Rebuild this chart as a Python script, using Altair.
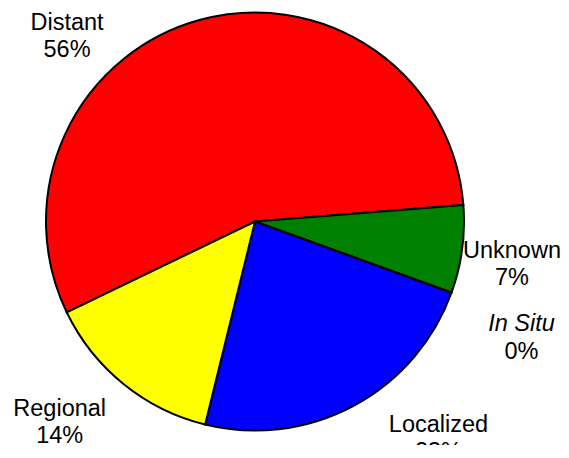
import math
import altair as alt
import pandas as pd

# Data (clockwise order, starting with Distant)
categories = ["Distant", "Unknown", "In Situ", "Localized", "Regional"]
percents = [55.9, 6.8, 0.0, 23.3, 14.0]
colors = ["#FF0000", "#008000", "#FFFFFF", "#0000FF", "#FFFF00"]

# Label layout (angle clockwise from 12 o'clock in degrees, distance from centre in px)
label_deg = [314.53, 99.54, 113.6, 139.77, 224.19]
label_r = [263.7, 260.6, 290.8, 284.1, 280.2]

df = pd.DataFrame({
    "cat": categories,
    "pct": percents,
    "idx": list(range(len(categories))),
    "ldeg": label_deg,
    "lr": label_r,
})

CX, CY, R = 247, 213.5, 209
start = math.radians(244.2)

base = alt.Chart(df)

pie = base.mark_arc(radius=R, stroke="black", strokeWidth=2).encode(
    x=alt.value(CX),
    y=alt.value(CY),
    theta=alt.Theta("pct:Q", stack=True,
                    scale=alt.Scale(range=[start, start + 2 * math.pi])),
    order=alt.Order("idx:Q"),
    color=alt.Color("cat:N", scale=alt.Scale(domain=categories, range=colors), legend=None),
)

txt = base.transform_calculate(
    lrad="datum.ldeg * PI / 180",
    ptxt="format(datum.pct, '.0f') + '%'",
)

font = "Liberation Sans"
fs = 23.5

def label_layer(text_field, dy, style="normal", filt=None):
    c = txt
    if filt is not None:
        c = c.transform_filter(filt)
    return c.mark_text(font=font, fontSize=fs, fontStyle=style, dy=dy,
                       align="center", baseline="middle", color="black").encode(
        x=alt.value(CX),
        y=alt.value(CY),
        theta=alt.Theta("lrad:Q", scale=None),
        radius=alt.Radius("lr:Q", scale=None),
        text=alt.Text(text_field),
    )

names = label_layer("cat:N", -13.75, filt="datum.cat != 'In Situ'")
names_it = label_layer("cat:N", -13.75, style="italic", filt="datum.cat == 'In Situ'")
pcts = label_layer("ptxt:N", 13.75)

chart = alt.layer(pie, names, names_it, pcts).properties(
    width=553, height=437, padding=0, autosize=alt.AutoSizeParams(type="none")
).configure_view(stroke=None)

chart.save("out.html", embed_options={"renderer": "svg", "actions": False})
